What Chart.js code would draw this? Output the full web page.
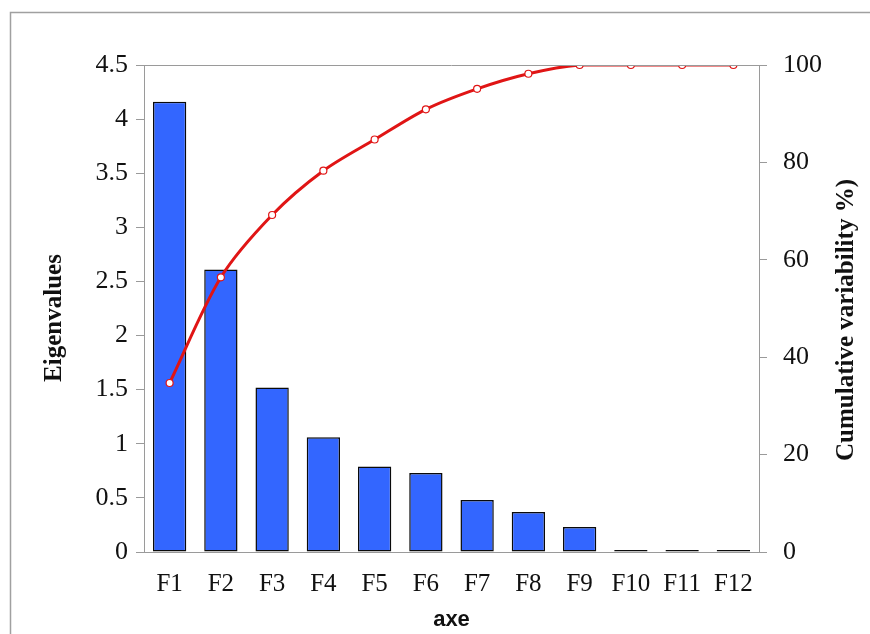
<!DOCTYPE html>
<html>
<head>
<meta charset="utf-8">
<script src="https://cdn.jsdelivr.net/npm/chart.js@4/dist/chart.umd.min.js"></script>
<style>
  html, body { margin: 0; padding: 0; background: #fff; }
  #wrap { position: relative; width: 870px; height: 634px; }
</style>
</head>
<body>
<div id="wrap"><canvas id="scree" width="870" height="634"></canvas></div>
<script>
const axes = ['F1', 'F2', 'F3', 'F4', 'F5', 'F6', 'F7', 'F8', 'F9', 'F10', 'F11', 'F12'];
const eigenvalues = [4.16, 2.61, 1.52, 1.06, 0.79, 0.73, 0.48, 0.37, 0.23, 0.01, 0.01, 0.01];
const cumulative = [34.7, 56.4, 69.2, 78.3, 84.7, 90.9, 95.1, 98.2, 100, 100, 100, 100];

const leftTitle = 'Eigenvalues';
const rightTitle = 'Cumulative variability %)';
const bottomTitle = 'axe';

const serif = '"Liberation Serif", "Times New Roman", serif';
const axisGrey = '#9a9a9a';

// frame lines, plot top border and the two rotated side titles
const decor = {
  id: 'decor',
  beforeDraw(chart) {
    const ctx = chart.ctx;
    ctx.save();
    ctx.strokeStyle = '#a0a0a0';
    ctx.lineWidth = 1.5;
    ctx.beginPath();
    ctx.moveTo(10.5, 634);
    ctx.lineTo(10.5, 12.5);
    ctx.lineTo(870, 12.5);
    ctx.stroke();
    ctx.restore();
  },
  afterDraw(chart) {
    const ctx = chart.ctx;
    const a = chart.chartArea;
    ctx.save();
    ctx.strokeStyle = axisGrey;
    ctx.lineWidth = 1;
    ctx.beginPath();
    ctx.moveTo(a.left, a.top + 0.5);
    ctx.lineTo(a.right, a.top + 0.5);
    ctx.stroke();

    ctx.fillStyle = '#111';
    ctx.font = 'bold 25px ' + serif;
    ctx.textAlign = 'center';
    ctx.textBaseline = 'middle';
    ctx.translate(55, 318);
    ctx.rotate(-Math.PI / 2);
    ctx.fillText(leftTitle, 0, 0);
    ctx.restore();

    ctx.save();
    ctx.fillStyle = '#111';
    ctx.font = 'bold 25px ' + serif;
    ctx.textAlign = 'center';
    ctx.textBaseline = 'middle';
    ctx.translate(847, 320);
    ctx.rotate(-Math.PI / 2);
    ctx.fillText(rightTitle, 0, 0);
    ctx.restore();
  }
};

new Chart(document.getElementById('scree'), {
  type: 'bar',
  data: {
    labels: axes,
    datasets: [
      {
        type: 'line',
        data: cumulative,
        yAxisID: 'y1',
        borderColor: '#e01515',
        borderWidth: 3,
        tension: 0.3,
        pointRadius: 3.5,
        pointBorderWidth: 1.2,
        pointBorderColor: '#e01515',
        pointBackgroundColor: '#fff',
        order: 0,
      },
      {
        data: eigenvalues,
        yAxisID: 'y',
        backgroundColor: '#3366ff',
        borderColor: '#0a0a0a',
        borderWidth: 1.5,
        borderSkipped: false,
        barPercentage: 0.65,
        categoryPercentage: 1,
        minBarLength: 2,
        order: 1,
      },
    ],
  },
  options: {
    responsive: false,
    animation: false,
    devicePixelRatio: 1,
    layout: { padding: { top: 65, left: 0, right: 0, bottom: 0 } },
    plugins: {
      legend: { display: false },
      tooltip: { enabled: false },
    },
    scales: {
      x: {
        grid: { display: false, drawTicks: false },
        border: { display: true, color: axisGrey },
        ticks: { color: '#111', padding: 17, font: { family: serif, size: 25 } },
        title: {
          display: true,
          text: bottomTitle,
          color: '#111',
          padding: { top: 0, bottom: 1 },
          font: { family: '"Liberation Sans", Arial, sans-serif', size: 22, weight: 'bold' },
        },
        afterFit(scale) { scale.height = 82; },
      },
      y: {
        position: 'left',
        min: 0,
        max: 4.5,
        ticks: {
          stepSize: 0.5,
          color: '#111',
          padding: 8,
          font: { family: serif, size: 26 },
          callback: (v) => String(v),
        },
        grid: { drawOnChartArea: false, color: axisGrey, tickLength: 8 },
        border: { color: axisGrey },
        afterFit(scale) { scale.width = 144; },
      },
      y1: {
        position: 'right',
        min: 0,
        max: 100,
        ticks: { stepSize: 20, color: '#111', padding: 16, font: { family: serif, size: 26 } },
        grid: { drawOnChartArea: false, color: axisGrey, tickLength: 8 },
        border: { color: axisGrey },
        afterFit(scale) { scale.width = 111; },
      },
    },
  },
  plugins: [decor],
});
</script>
</body>
</html>
